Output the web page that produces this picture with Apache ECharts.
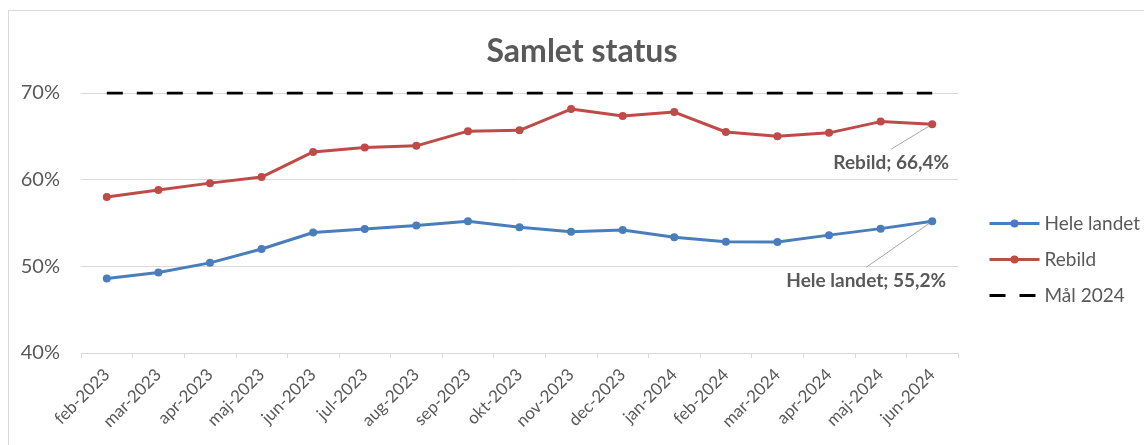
<!DOCTYPE html>
<html>
<head>
<meta charset="utf-8">
<script src="https://cdn.jsdelivr.net/npm/echarts@6/dist/echarts.min.js"></script>
<style>
  html, body { margin: 0; padding: 0; background: #fff; overflow: hidden; }
  #frame { position: absolute; left: 8px; top: 10px; width: 1300px; height: 600px; border: 1px solid #d9d9d9; }
  #chart { position: absolute; left: 0; top: 0; width: 1144px; height: 445px; }
</style>
</head>
<body>
<div id="frame"></div>
<div id="chart"></div>
<script>
var months = ['feb-2023','mar-2023','apr-2023','maj-2023','jun-2023','jul-2023','aug-2023','sep-2023',
    'okt-2023','nov-2023','dec-2023','jan-2024','feb-2024','mar-2024','apr-2024','maj-2024','jun-2024'];
var heleLandet = [48.6, 49.3, 50.4, 52.0, 53.9, 54.3, 54.7, 55.2, 54.5, 54.0, 54.2, 53.35, 52.85, 52.8, 53.6, 54.35, 55.2];
var rebild = [58.0, 58.8, 59.6, 60.3, 63.2, 63.7, 63.9, 65.6, 65.7, 68.15, 67.35, 67.8, 65.5, 65.0, 65.4, 66.7, 66.4];
var maal2024 = [70, 70, 70, 70, 70, 70, 70, 70, 70, 70, 70, 70, 70, 70, 70, 70, 70];

var textColor = '#595959';
var fontFam = 'Lato, "Open Sans", sans-serif';

var chart = echarts.init(document.getElementById('chart'));
var option = {
    animation: false,
    title: {
        text: 'Samlet status',
        left: 577,
        textAlign: 'center',
        top: 31,
        textStyle: { fontFamily: fontFam, fontSize: 32, fontWeight: 'bold', color: textColor }
    },
    legend: {
        orient: 'vertical',
        left: 983,
        top: 209,
        itemWidth: 50,
        itemHeight: 10,
        itemGap: 17,
        textStyle: { fontFamily: fontFam, fontSize: 19, color: textColor },
        lineStyle: { width: 3 },
        data: ['Hele landet', 'Rebild', { name: 'Mål 2024', itemStyle: { opacity: 0 } }]
    },
    grid: { left: 81, right: 186, top: 93, bottom: 92 },
    xAxis: {
        type: 'category',
        data: months,
        axisLine: { lineStyle: { color: '#d9d9d9' } },
        axisTick: { show: true, length: 5, lineStyle: { color: '#d9d9d9' } },
        axisLabel: { rotate: 45, margin: 19, fontFamily: fontFam, fontSize: 17, color: textColor, interval: 0 }
    },
    yAxis: {
        type: 'value',
        min: 40,
        max: 70,
        interval: 10,
        axisLine: { show: false },
        axisTick: { show: false },
        splitLine: { lineStyle: { color: '#d9d9d9' } },
        axisLabel: { formatter: '{value}%', margin: 21, fontFamily: fontFam, fontSize: 20, color: textColor }
    },
    series: [
        {
            name: 'Hele landet',
            type: 'line',
            data: heleLandet,
            symbol: 'circle',
            symbolSize: 8,
            itemStyle: { color: '#4a7ebb' },
            lineStyle: { width: 3, color: '#4a7ebb' },
            z: 3
        },
        {
            name: 'Rebild',
            type: 'line',
            data: rebild,
            symbol: 'circle',
            symbolSize: 8,
            itemStyle: { color: '#be4b48' },
            lineStyle: { width: 3, color: '#be4b48' },
            z: 3
        },
        {
            name: 'Mål 2024',
            type: 'line',
            data: maal2024,
            symbol: 'none',
            itemStyle: { color: '#000' },
            lineStyle: { width: 3, color: '#000', type: [16, 14] },
            z: 2
        }
    ]
};
chart.setOption(option);

// callouts for the last point of each series, placed from the axis scale
function callout(seriesIndex, values, name, dx, dy) {
    var last = values.length - 1;
    var pt = chart.convertToPixel({ seriesIndex: seriesIndex }, [last, values[last]]);
    var cx = pt[0] + dx, cy = pt[1] + dy;
    return [
        {
            type: 'line',
            shape: { x1: pt[0], y1: pt[1], x2: cx, y2: cy - 14 },
            style: { stroke: '#a6a6a6', lineWidth: 1 },
            z: 1
        },
        {
            type: 'text',
            x: cx,
            y: cy,
            style: {
                text: name + '; ' + values[last].toFixed(1).replace('.', ',') + '%',
                fill: textColor,
                font: 'bold 19px ' + fontFam,
                align: 'center',
                verticalAlign: 'middle'
            },
            z: 10
        }
    ];
}

chart.setOption({
    graphic: callout(1, rebild, 'Rebild', -41, 39).concat(callout(0, heleLandet, 'Hele landet', -66, 60))
});
</script>
</body>
</html>
